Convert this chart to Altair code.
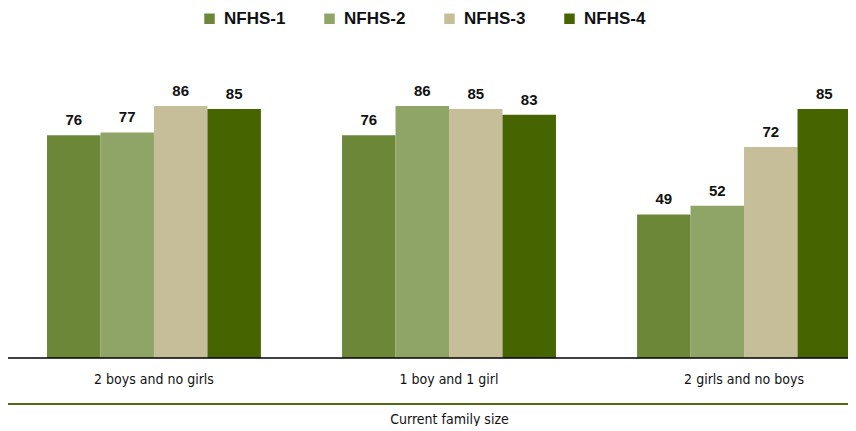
import altair as alt
import pandas as pd

categories = ["2 boys and no girls", "1 boy and 1 girl", "2 girls and no boys"]
series = ["NFHS-1", "NFHS-2", "NFHS-3", "NFHS-4"]
nfhs1 = [76, 76, 49]
nfhs2 = [77, 86, 52]
nfhs3 = [86, 85, 72]
nfhs4 = [85, 83, 85]
colors = ["#6B8737", "#8FA467", "#C5BE98", "#466400"]

rows = []
for s, vals in zip(series, [nfhs1, nfhs2, nfhs3, nfhs4]):
    for c, v in zip(categories, vals):
        rows.append({"cat": c, "series": s, "value": v})
df = pd.DataFrame(rows)

W, H = 840, 293
FONT = "Liberation Sans"
NARROW = "DejaVu Sans Condensed, Liberation Sans Narrow, Liberation Sans"

x = alt.X("cat:N", sort=categories,
          scale=alt.Scale(range=[39, 843], paddingInner=0.275, paddingOuter=0),
          axis=alt.Axis(title="Current family size", labelAngle=0, ticks=False, domain=False,
                        labelFont=NARROW, labelFontSize=14, labelColor="#111111",
                        labelPadding=14, titleFont=NARROW, titleFontSize=14,
                        titleFontWeight="normal", titleColor="#111111", titlePadding=26))

base = alt.Chart(df).encode(
    x=x,
    xOffset=alt.XOffset("series:N", sort=series, scale=alt.Scale(paddingInner=0, paddingOuter=0)),
    y=alt.Y("value:Q", scale=alt.Scale(domain=[0, 100]), axis=None),
)

bars = base.mark_bar().encode(
    color=alt.Color("series:N", sort=series,
                    scale=alt.Scale(domain=series, range=colors),
                    legend=alt.Legend(title=None, orient="none", direction="horizontal",
                                      legendX=193, legendY=-55,
                                      symbolType="square", symbolSize=110, symbolStrokeWidth=0,
                                      labelFont=FONT, labelFontSize=17, labelFontWeight="bold",
                                      labelColor="#111111", columnPadding=35, labelOffset=6))
)

labels = base.mark_text(dy=-7, fontSize=15, fontWeight="bold", font=FONT,
                        color="#111111", baseline="bottom").encode(text="value:Q")

rule_df = pd.DataFrame({"a": [0]})
baseline = alt.Chart(rule_df).mark_rule(color="#000000", strokeWidth=1.5).encode(
    x=alt.value(0), x2=alt.value(W), y=alt.value(H)
)
greenline = alt.Chart(rule_df).mark_rule(color="#4E6B12", strokeWidth=2).encode(
    x=alt.value(0), x2=alt.value(W), y=alt.value(H + 46)
)

chart = alt.layer(bars, labels, baseline, greenline).properties(
    width=W, height=H,
    autosize=alt.AutoSizeParams(type="none"),
    padding={"left": 0, "top": 57, "right": 0, "bottom": 68},
).configure_view(stroke=None).configure_axis(grid=False)

chart.save("out.html", embed_options={"renderer": "svg", "actions": False})
